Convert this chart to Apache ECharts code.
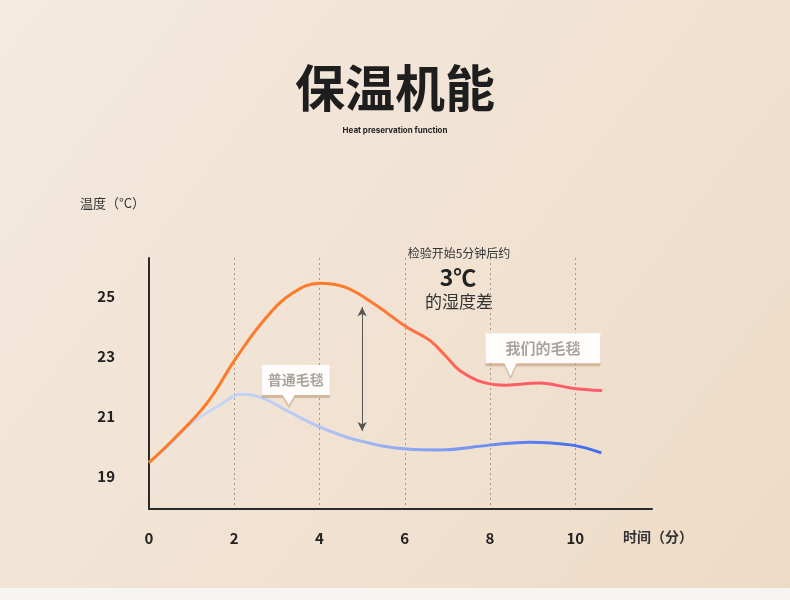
<!DOCTYPE html>
<html><head><meta charset="utf-8">
<script src="https://cdn.jsdelivr.net/npm/echarts@6/dist/echarts.min.js"></script>
<style>html,body{margin:0;padding:0;}#c{width:790px;height:600px;}</style>
</head><body><div id="c"></div>
<script>
// Data
const xTicks = [0, 2, 4, 6, 8, 10];
const yTicks = [19, 21, 23, 25];
const ourTime = [0, 0.56, 1.36, 2.06, 2.76, 3.37, 4.0, 4.6, 5.25, 6.04, 6.58, 6.98, 7.28, 7.82, 8.38, 9.16, 9.93, 10.63];
const ourTemp = [19.45, 20.2, 21.43, 22.97, 24.3, 25.1, 25.43, 25.3, 24.77, 23.97, 23.53, 22.97, 22.53, 22.13, 22.03, 22.1, 21.93, 21.85];
const normTime = [0, 0.5, 0.96, 1.59, 2.2, 2.67, 3.3, 4.07, 4.87, 6.04, 6.81, 7.99, 8.92, 9.93, 10.61];
const normTemp = [19.45, 20.05, 20.72, 21.3, 21.73, 21.6, 21.13, 20.6, 20.2, 19.9, 19.87, 20.03, 20.13, 20.03, 19.77];
const ourName = '我们的毛毯';
const normName = '普通毛毯';
const diffArrow = [[5.0, 24.63], [5.0, 20.5]];
const ourCallout = [8.48, 22.33];
const normCallout = [3.28, 21.37];

const font = '"Noto Sans CJK SC", "Noto Sans", sans-serif';
const chart = echarts.init(document.getElementById('c'));

const calloutPath = (w, h, p, tx) =>
  `path://M0,0 L${w},0 L${w},${h} L${tx + 6},${h} L${tx},${h + p} L${tx - 6},${h} L0,${h} Z`;

const option = {
  animation: false,
  backgroundColor: {
    type: 'linear', x: 0, y: 0, x2: 1, y2: 1,
    colorStops: [
      { offset: 0, color: '#f4eae0' },
      { offset: 1, color: '#eedbc6' }
    ]
  },
  title: [
    { text: '保温机能', left: 'center', top: 58,
      textStyle: { fontFamily: font, fontSize: 50, fontWeight: 'bold', color: '#1e1e1e' } },
    { text: 'Heat preservation function', left: 'center', top: 122,
      textStyle: { fontFamily: 'Inter, "Noto Sans", sans-serif', fontSize: 8, fontWeight: 'bold', color: '#222' } }
  ],
  graphic: [
    { type: 'rect', left: 0, top: 588, shape: { width: 790, height: 12 }, style: { fill: '#f7f5f2' }, z: -1 },
    { type: 'text', left: 80, top: 197, style: { text: '温度（°C）', fontFamily: font, fontSize: 13, fill: '#333' } },
    { type: 'text', left: 623, top: 530, style: { text: '时间（分）', fontFamily: font, fontSize: 14, fontWeight: 'bold', fill: '#333' } },
    { type: 'text', x: 459, y: 253, style: { text: '检验开始5分钟后约', align: 'center', verticalAlign: 'middle', fontFamily: font, fontSize: 12, fill: '#333' } },
    { type: 'text', x: 458, y: 277, style: { text: '3℃', align: 'center', verticalAlign: 'middle', fontFamily: font, fontSize: 23, fontWeight: 'bold', fill: '#222' } },
    { type: 'text', x: 459, y: 302, style: { text: '的湿度差', align: 'center', verticalAlign: 'middle', fontFamily: font, fontSize: 17, fill: '#333' } }
  ],
  grid: { left: 149, right: 138, top: 258, bottom: 91 },
  xAxis: {
    type: 'value', min: 0, max: 11.8, interval: 2,
    axisLine: { show: true, lineStyle: { color: '#2a2a2a', width: 2 } },
    axisTick: { show: false },
    axisLabel: { customValues: xTicks, margin: 22, fontFamily: font, fontSize: 15, fontWeight: 'bold', color: '#222' },
    splitLine: { show: true, showMinLine: false, showMaxLine: false, lineStyle: { color: '#a59a90', type: [2, 3], width: 1 } }
  },
  yAxis: {
    type: 'value', min: 17.9, max: 26.27,
    axisLine: { show: true, lineStyle: { color: '#2a2a2a', width: 2 } },
    axisTick: { show: false },
    axisLabel: { customValues: yTicks, margin: 34, fontFamily: font, fontSize: 15, fontWeight: 'bold', color: '#222' },
    splitLine: { show: false }
  },
  series: [
    {
      name: normName, type: 'line', smooth: 0.4, showSymbol: false, z: 2,
      data: normTime.map((t, i) => [t, normTemp[i]]),
      lineStyle: { width: 3, color: {
        type: 'linear', x: 0, y: 0, x2: 1, y2: 0,
        colorStops: [{ offset: 0, color: '#d3def6' }, { offset: 0.35, color: '#b7c9f5' }, { offset: 1, color: '#3d68f0' }]
      } },
      markPoint: {
        silent: true,
        data: [{ coord: normCallout, symbol: calloutPath(68, 30, 10, 27), symbolSize: [68, 40], symbolOffset: [7, -20],
          itemStyle: { color: '#fffdfb', shadowColor: 'rgba(170,130,90,0.45)', shadowBlur: 1, shadowOffsetY: 3 },
          label: { show: true, formatter: normName, position: 'inside', offset: [0, -5], fontFamily: font, fontSize: 14, fontWeight: 'bold', color: '#aaa49e' } }]
      }
    },
    {
      name: ourName, type: 'line', smooth: 0.4, showSymbol: false, z: 3,
      data: ourTime.map((t, i) => [t, ourTemp[i]]),
      lineStyle: { width: 3, color: {
        type: 'linear', x: 0, y: 0, x2: 1, y2: 0,
        colorStops: [{ offset: 0, color: '#ff7a22' }, { offset: 0.5, color: '#ff7a30' }, { offset: 0.72, color: '#ff5f60' }, { offset: 1, color: '#ff5a6e' }]
      } },
      markPoint: {
        silent: true,
        data: [{ coord: ourCallout, symbol: calloutPath(115, 30, 13, 25), symbolSize: [115, 43], symbolOffset: [32.5, -21.5],
          itemStyle: { color: '#fffdfb', shadowColor: 'rgba(170,130,90,0.45)', shadowBlur: 1, shadowOffsetY: 3 },
          label: { show: true, formatter: ourName, position: 'inside', offset: [0, -6], fontFamily: font, fontSize: 15, fontWeight: 'bold', color: '#aaa49e' } }]
      },
      markLine: {
        silent: true, symbol: ['arrow', 'arrow'], symbolSize: [7, 9],
        lineStyle: { color: '#555', width: 1, type: 'solid' },
        label: { show: false },
        data: [[{ coord: diffArrow[0] }, { coord: diffArrow[1] }]]
      }
    }
  ]
};
chart.setOption(option);
</script>
</body></html>
